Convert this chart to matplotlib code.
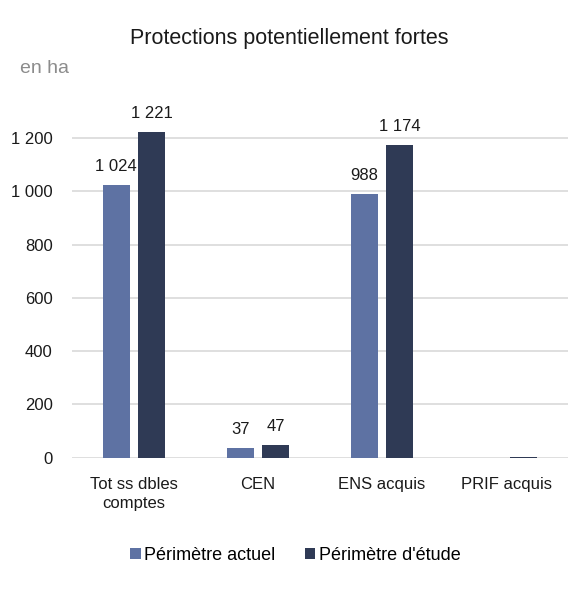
import numpy as np
import matplotlib.pyplot as plt

plt.rcParams['font.family'] = ['Liberation Sans', 'DejaVu Sans']

categories = ['Tot ss dbles\ncomptes', 'CEN', 'ENS acquis', 'PRIF acquis']
actuel = [1024, 37, 988, 0]
etude = [1221, 47, 1174, 2]
series_names = ['Périmètre actuel', "Périmètre d'étude"]
colors = ['#5E72A3', '#2F3A55']


def fmt(v):
    return '{:,}'.format(int(v)).replace(',', ' ')


fig = plt.figure(figsize=(5.68, 5.94), dpi=100)
ax = fig.add_axes([0.1268, 0.2295, 0.8732, 0.628])

x = np.arange(len(categories))
width = 0.22
offset = 0.143

b1 = ax.bar(x - offset, actuel, width, color=colors[0], label=series_names[0], zorder=3)
b2 = ax.bar(x + offset, etude, width, color=colors[1], label=series_names[1], zorder=3)

# value labels, skip the near-zero PRIF bars
for bars, vals in ((b1, actuel), (b2, etude)):
    for rect, v in zip(bars, vals):
        if v < 10:
            continue
        ax.annotate(fmt(v), (rect.get_x() + rect.get_width() / 2, v),
                    xytext=(0, 8), textcoords='offset points',
                    ha='center', va='bottom', fontsize=12, color='#1a1a1a')

ax.set_xlim(-0.5, len(categories) - 0.5)
ax.set_ylim(0, 1400)
ax.set_yticks(range(0, 1201, 200))
ax.set_yticklabels([fmt(t) for t in range(0, 1201, 200)])
ax.set_xticks(x)
ax.set_xticklabels(categories, linespacing=1.35)
ax.grid(axis='y', color='#D9D9D9', linewidth=1.2, zorder=0)
ax.tick_params(axis='both', length=0, labelsize=12, colors='#1a1a1a')
ax.tick_params(axis='x', pad=14)
ax.tick_params(axis='y', pad=14)
for s in ax.spines.values():
    s.set_visible(False)

fig.text(0.51, 0.935, 'Protections potentiellement fortes', ha='center', va='center',
         fontsize=15.5, color='#1a1a1a')
fig.text(0.035, 0.885, 'en ha', ha='left', va='center', fontsize=14, color='#8c8c8c')

fig.legend(handles=[b1, b2], loc='center', bbox_to_anchor=(0.52, 0.065), ncol=2,
           frameon=False, fontsize=13, handlelength=0.6, handleheight=0.6,
           handletextpad=0.2, columnspacing=1.6)

fig.savefig('out.png', dpi=100)
